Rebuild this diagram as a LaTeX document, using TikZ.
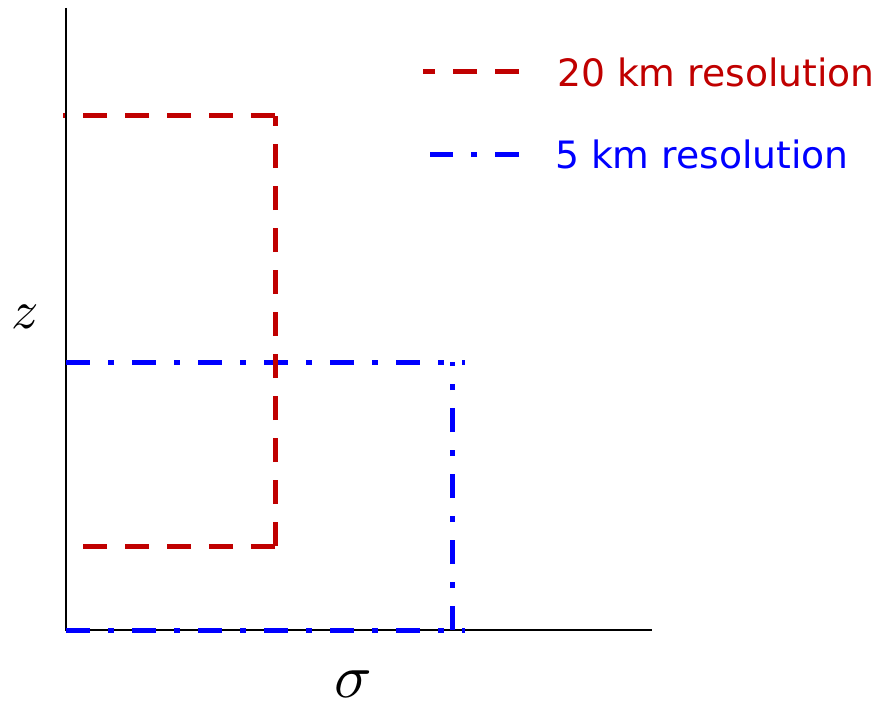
\documentclass[tikz,border=0pt]{standalone}
\usepackage{fontspec}
\setmainfont{DejaVu Sans}
\definecolor{coarsered}{RGB}{192,0,0}
\definecolor{fineblue}{RGB}{0,0,255}
\begin{document}
\begin{tikzpicture}[x=1pt,y=-1pt,
  coarse/.style={coarsered,line width=5pt,dash pattern=on 24pt off 18pt},
  fine/.style={fineblue,line width=5pt,dash pattern=on 24pt off 18pt on 6pt off 18pt},
  legendtext/.style={anchor=base west,inner sep=0pt,font=\fontsize{37.7}{45}\selectfont},
  axislabel/.style={inner sep=0pt}]
  \useasboundingbox (0,0) rectangle (878,706);
  \coordinate (o) at (66,630);
  \draw[line width=2.5pt] (66,8) -- (o) -- (652,630);
  % 5 km box
  \draw[fine] (o) -- (465,630); \draw[fine] (66,362) -- (465,362);
  \draw[fine] (452,630) -- (452,362);
  % 20 km box
  \draw[coarse] (275,116) -- (63,116); \draw[coarse] (275,546) -- (275,116);
  \draw[coarse] (275,546) -- (66,546);
  % legend
  \draw[coarse] (519,72) -- (423,72);
  \draw[fine] (519,155) -- (430,155);
  \node[legendtext,coarsered] (lcoarse) at (557,87) {20 km resolution};
  \node[legendtext,fineblue] (lfine) at (555,168) {5 km resolution};
  \node[axislabel] (zlab) at (25.5,317) {\scalebox{5.4}{$z$}};
  \node[axislabel] (slab) at (353.5,684) {\scalebox{6.2}{$\sigma$}};
\end{tikzpicture}
\end{document}
